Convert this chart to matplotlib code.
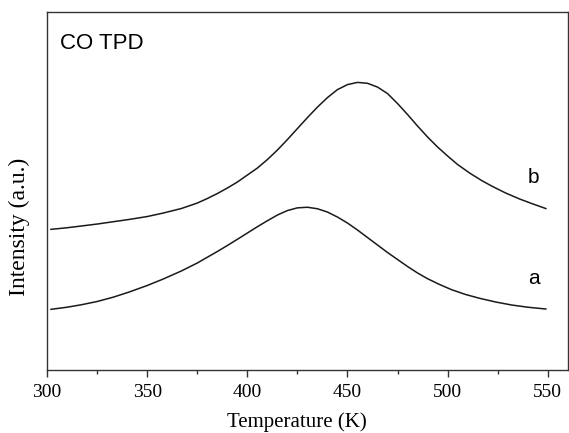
import matplotlib.pyplot as plt
from matplotlib.ticker import MultipleLocator

# CO TPD profiles: temperature (K) and intensity (a.u.)
temp_a = [302, 310, 317, 325, 333, 341, 350, 358, 367, 375, 385, 390, 395,
          400, 405, 410, 415, 420, 425, 430, 435, 440, 445, 450, 455, 460,
          465, 470, 475, 480, 485, 490, 496, 502, 509, 516, 524, 532, 540, 549]
int_a = [60.7, 62.8, 65.2, 68.5, 72.8, 78, 84.5, 91, 99, 107, 118.5, 124.5,
         130.7, 137, 143.3, 149.3, 155, 159.5, 162.2, 162.8, 161.3, 158, 153,
         147, 140, 132.5, 125, 117.5, 110.5, 103.5, 97, 91.3, 85.5, 80.3,
         75.5, 71.7, 68, 65, 62.8, 61]

temp_b = [302, 310, 317, 325, 333, 341, 350, 358, 367, 375, 380, 385, 390,
          395, 400, 405, 410, 415, 420, 425, 430, 435, 440, 445, 450, 455,
          460, 465, 470, 475, 480, 485, 490, 495, 500, 505, 511, 517, 522,
          529, 536, 542, 549]
int_b = [140.7, 142.3, 144, 146, 148.3, 150.6, 153.5, 157, 161.5, 167, 171.5,
         176.5, 182, 188, 195, 202, 210.5, 220, 230.5, 241.5, 252.5, 263,
         272.5, 280.5, 285.5, 287.7, 286.8, 283, 276.5, 266.5, 255.5, 244,
         233, 223, 214, 205.5, 197, 189.5, 184, 177, 171, 166.5, 161.5]

serif = 'Liberation Serif'
sans = 'Liberation Sans'

fig = plt.figure(figsize=(5.69, 4.33), dpi=100)
ax = fig.add_axes([0.0826, 0.1455, 0.9154, 0.8265])

ax.plot(temp_a, int_a, color='#1a1a1a', lw=1.1)
ax.plot(temp_b, int_b, color='#1a1a1a', lw=1.1)

ax.set_xlim(300, 560)
ax.set_ylim(0, 358)
ax.xaxis.set_major_locator(MultipleLocator(50))
ax.xaxis.set_minor_locator(MultipleLocator(25))
ax.set_yticks([])
ax.tick_params(axis='x', which='major', direction='out', length=5, width=1,
               color='#333333', pad=5)
ax.tick_params(axis='x', which='minor', direction='out', length=3, width=1,
               color='#333333')
for lab in ax.get_xticklabels():
    lab.set_fontfamily(serif)
    lab.set_fontsize(14)
for sp in ax.spines.values():
    sp.set_color('#333333')
    sp.set_linewidth(1.0)

ax.set_xlabel('Temperature (K)', fontfamily=serif, fontsize=15)
ax.set_ylabel('Intensity (a.u.)', fontfamily=serif, fontsize=17)
ax.xaxis.set_label_coords(0.479, -0.118)
ax.yaxis.set_label_coords(-0.032, 0.40)

ax.text(306.5, 327, 'CO TPD', fontfamily=sans, fontsize=16, va='center')
ax.text(543, 193, 'b', fontfamily=sans, fontsize=15, ha='center', va='center')
ax.text(543, 92, 'a', fontfamily=sans, fontsize=15, ha='center', va='center')

fig.savefig('out.png', dpi=100)
